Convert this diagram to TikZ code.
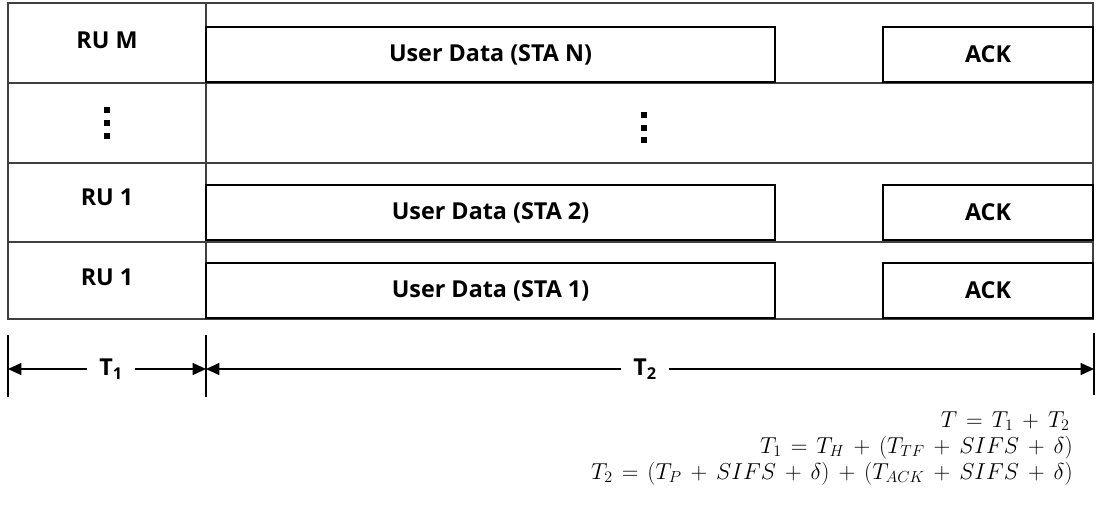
\documentclass[tikz,border=0pt]{standalone}
\usepackage{fontspec}
\setmainfont{Open Sans}
\usetikzlibrary{arrows.meta}
\newcommand\eqspacing{\medmuskip=7mu\relax\thickmuskip=7mu\relax}

\begin{document}
\begin{tikzpicture}[x=0.75pt,y=-0.75pt,
	grid/.style={line width=1.1pt, draw=black!75},
	slot/.style={line width=2.2pt, draw=black},
	lbl/.style={font=\fontsize{17.5}{20}\selectfont\bfseries},
	eq/.style={anchor=base east, inner sep=0pt, font=\fontsize{18}{22}\selectfont\eqspacing},
	dim/.style={line width=0.9pt, -{Triangle[length=10pt,width=9pt]}}]
	%%%%% START %%%%%
	\useasboundingbox (0,0) rectangle (1097,511);
	
	% table
	\draw[grid] (8,3) rectangle (1093,319);
	\draw[grid] (206,3) -- (206,319);
	\foreach \y in {83,163,242}
		\draw[grid] (8,\y) -- (1093,\y);
	
	% row labels
	\node[lbl] (ruM) at (107,40) {RU M};
	\node[lbl] (ruB) at (107,197) {RU 1};
	\node[lbl] (ruA) at (107,277) {RU 1};
	\foreach \x/\y in {104/107,104/120,104/133,641/112,641/125,641/137}
		\fill (\x,\y) rectangle ++(6,6);
	
	% data and ack slots
	\draw[slot] (206,27) rectangle (775,82) node[midway, lbl] (dataN) {User Data (STA N)};
	\draw[slot] (883,27) rectangle (1093,82) node[midway, lbl] (ackN) {ACK};
	\draw[slot] (206,185) rectangle (775,240) node[midway, lbl] (dataB) {User Data (STA 2)};
	\draw[slot] (883,185) rectangle (1093,240) node[midway, lbl] (ackB) {ACK};
	\draw[slot] (206,263) rectangle (775,318) node[midway, lbl] (dataA) {User Data (STA 1)};
	\draw[slot] (883,263) rectangle (1093,318) node[midway, lbl] (ackA) {ACK};
	
	% durations
	\draw[line width=0.9pt] (8,335) -- (8,397);
	\draw[line width=0.9pt] (206,335) -- (206,397);
	\draw[line width=0.9pt] (1094,333) -- (1094,395);
	\coordinate (tL) at (8,369);
	\coordinate (tM) at (206,369);
	\coordinate (tR) at (1094,369);
	\node[lbl, inner xsep=9pt] (T1) at (111,369) {T\textsubscript{1}};
	\node[lbl, inner xsep=9pt] (T2) at (645,369) {T\textsubscript{2}};
	\draw[dim] (T1) -- (tL);
	\draw[dim] (T1) -- (tM);
	\draw[dim] (T2) -- (tM);
	\draw[dim] (T2) -- (tR);
	
	% formulas
	\node[eq] (eqT) at (1070,427) {$T = T_1 + T_2$};
	\node[eq] (eqA) at (1073,453) {$T_1 = T_H + (T_{TF} + SIFS + \delta)$};
	\node[eq] (eqB) at (1073,479) {$T_2 = (T_P + SIFS + \delta) + (T_{ACK} + SIFS + \delta)$};
	%%%%% END %%%%%
\end{tikzpicture}
\end{document}
